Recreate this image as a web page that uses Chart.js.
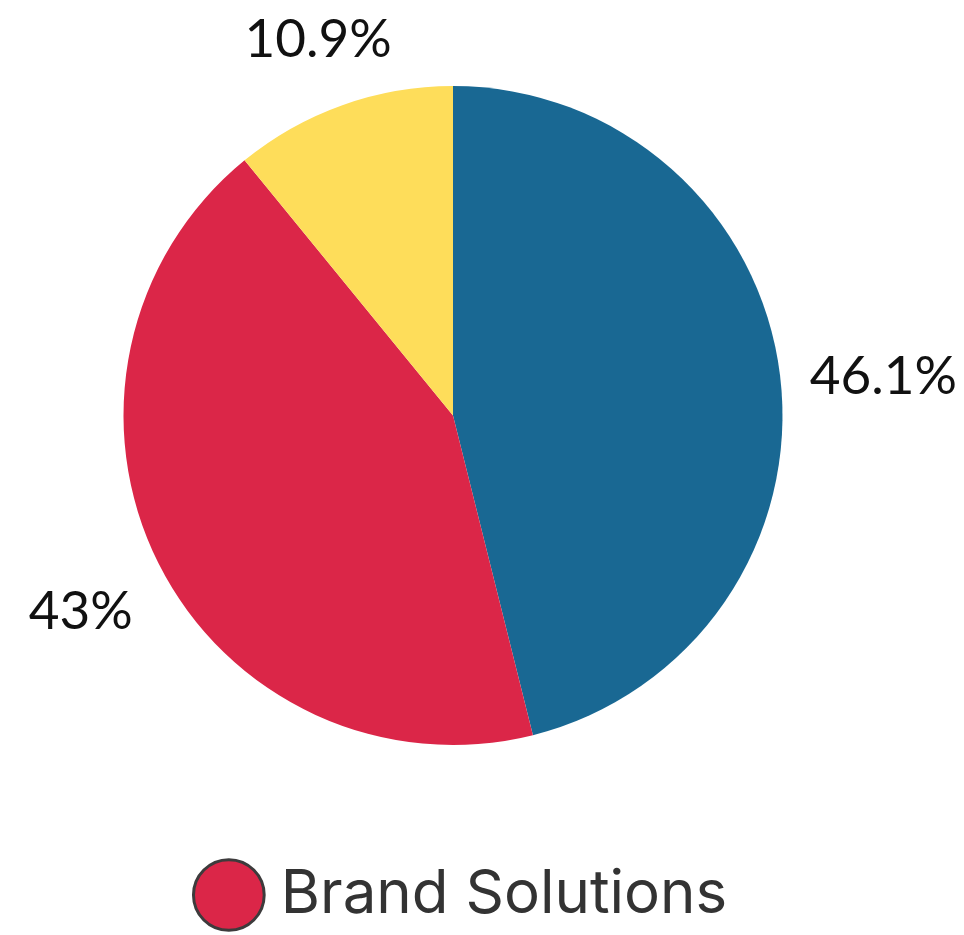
<!DOCTYPE html>
<html lang="en">
<head>
    <meta charset="UTF-8">
    <title>Brand Solutions share</title>
    <script src="https://cdn.jsdelivr.net/npm/chart.js"></script>
    <style>
        html, body { margin: 0; padding: 0; background: #fff; }
        #wrap { width: 964px; height: 935px; }
    </style>
</head>
<body>
    <div id="wrap"><canvas id="pie"></canvas></div>
    <script>
        // slice data, clockwise from 12 o'clock
        const categories = ['', 'Brand Solutions', ''];
        const shares = [46.1, 43, 10.9];
        const shareLabels = ['46.1%', '43%', '10.9%'];
        const colors = ['#196893', '#db2648', '#fedd5a'];

        // percentage text outside each slice
        const outerLabels = {
            id: 'outerLabels',
            afterDatasetsDraw(chart) {
                const ctx = chart.ctx;
                const arcs = chart.getDatasetMeta(0).data;
                ctx.save();
                ctx.font = '400 53px Lato';
                ctx.fillStyle = '#111';
                ctx.textAlign = 'center';
                ctx.textBaseline = 'middle';
                arcs.forEach((arc, i) => {
                    const mid = (arc.startAngle + arc.endAngle) / 2;
                    const x = arc.x + Math.cos(mid) * (arc.outerRadius + 96) + 8;
                    const y = arc.y + Math.sin(mid) * (arc.outerRadius + 82) + 12;
                    ctx.fillText(shareLabels[i], x, y);
                });
                ctx.restore();
            }
        };

        // legend sits a little right of the pie's centre line
        const legendShift = {
            id: 'legendShift',
            afterLayout(chart) {
                chart.legend.left += 14;
                chart.legend.right += 14;
            }
        };

        new Chart(document.getElementById('pie'), {
            type: 'pie',
            data: {
                labels: categories,
                datasets: [{
                    data: shares,
                    backgroundColor: colors,
                    borderWidth: 0
                }]
            },
            options: {
                responsive: true,
                maintainAspectRatio: false,
                animation: false,
                layout: { padding: { top: 86, left: 123, right: 181, bottom: 0 } },
                plugins: {
                    tooltip: { enabled: false },
                    legend: {
                        position: 'bottom',
                        labels: {
                            usePointStyle: true,
                            pointStyle: 'circle',
                            boxWidth: 44,
                            boxHeight: 50,
                            padding: 120,
                            color: '#333',
                            font: { family: 'Inter', size: 60 },
                            filter: item => item.text !== '',
                            generateLabels(chart) {
                                const base = Chart.overrides.pie.plugins.legend.labels.generateLabels(chart);
                                return base.map(l => Object.assign(l, { strokeStyle: '#3d3b3c', lineWidth: 3 }));
                            }
                        }
                    }
                }
            },
            plugins: [outerLabels, legendShift]
        });
    </script>
</body>
</html>
